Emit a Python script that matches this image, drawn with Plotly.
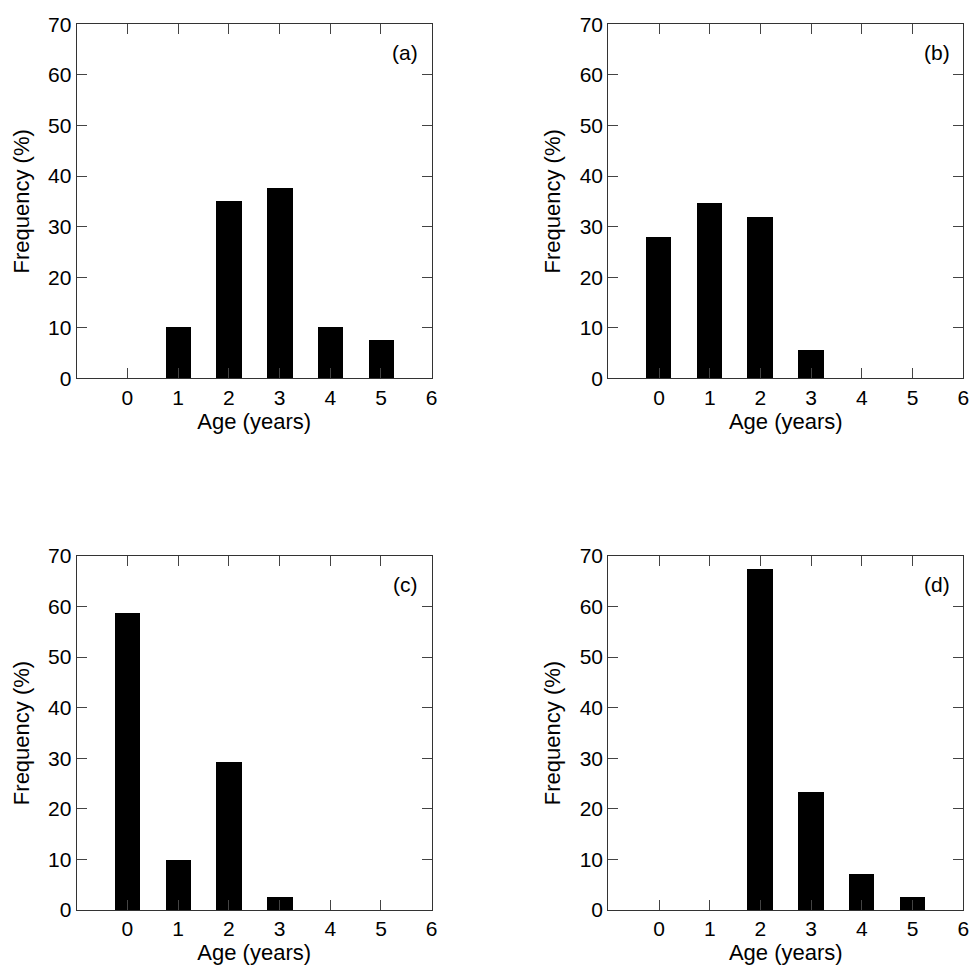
import plotly.graph_objects as go

ages = [0, 1, 2, 3, 4, 5]
freq_a = [0, 10, 35, 37.5, 10, 7.5]
freq_b = [27.8, 34.7, 31.9, 5.5, 0, 0]
freq_c = [58.8, 9.9, 29.3, 2.5, 0, 0]
freq_d = [0, 0, 67.5, 23.4, 7.1, 2.5]
panel_labels = ["(a)", "(b)", "(c)", "(d)"]
x_ticks = [0, 1, 2, 3, 4, 5, 6]
y_ticks = [0, 10, 20, 30, 40, 50, 60, 70]
x_title = "Age (years)"
y_title = "Frequency (%)"

W, H = 971, 967
xdoms = [[76.7 / W, 431.7 / W], [608.3 / W, 963.3 / W]]
ydoms = [[1 - 378.3 / H, 1 - 24.3 / H], [1 - 910 / H, 1 - 556 / H]]

series = [freq_a, freq_b, freq_c, freq_d]
font = "Liberation Sans, Arial, sans-serif"
FS = 21
FT = 22
fig = go.Figure()
layout = {}
for i, vals in enumerate(series):
    r, c = divmod(i, 2)
    n = "" if i == 0 else str(i + 1)
    fig.add_trace(go.Bar(x=ages, y=vals, width=0.5,
                         marker=dict(color="black", line=dict(color="black", width=0)),
                         xaxis="x" + n, yaxis="y" + n, showlegend=False))
    axcommon = dict(showline=True, linecolor="#333333", linewidth=1.2, mirror="allticks",
                    ticks="inside", ticklen=10, tickcolor="#444444", tickwidth=1,
                    showgrid=False, zeroline=False, automargin=False,
                    tickfont=dict(family=font, size=FS, color="black"))
    layout["xaxis" + n] = dict(domain=xdoms[c], anchor="y" + n, range=[-1, 6],
                               tickvals=x_ticks, ticklabelstandoff=0,
                               title=dict(text=x_title, font=dict(family=font, size=FT, color="black"), standoff=0),
                               **axcommon)
    layout["yaxis" + n] = dict(domain=ydoms[r], anchor="x" + n, range=[0, 70],
                               tickvals=y_ticks, ticklabelstandoff=0,
                               title=dict(text=y_title, font=dict(family=font, size=FT, color="black"), standoff=12),
                               **axcommon)
    fig.add_annotation(text=panel_labels[i], xref="x" + n + " domain", yref="y" + n + " domain",
                       x=0.967, y=0.919, xanchor="right", yanchor="middle", showarrow=False,
                       font=dict(family=font, size=FS, color="black"))

fig.update_layout(width=W, height=H, margin=dict(l=0, r=0, t=0, b=0),
                  paper_bgcolor="white", plot_bgcolor="white", bargap=0, **layout)
fig.write_html("out.html", config={"displayModeBar": False},
               post_script="document.body.style.margin='0';document.body.style.overflow='hidden';")
